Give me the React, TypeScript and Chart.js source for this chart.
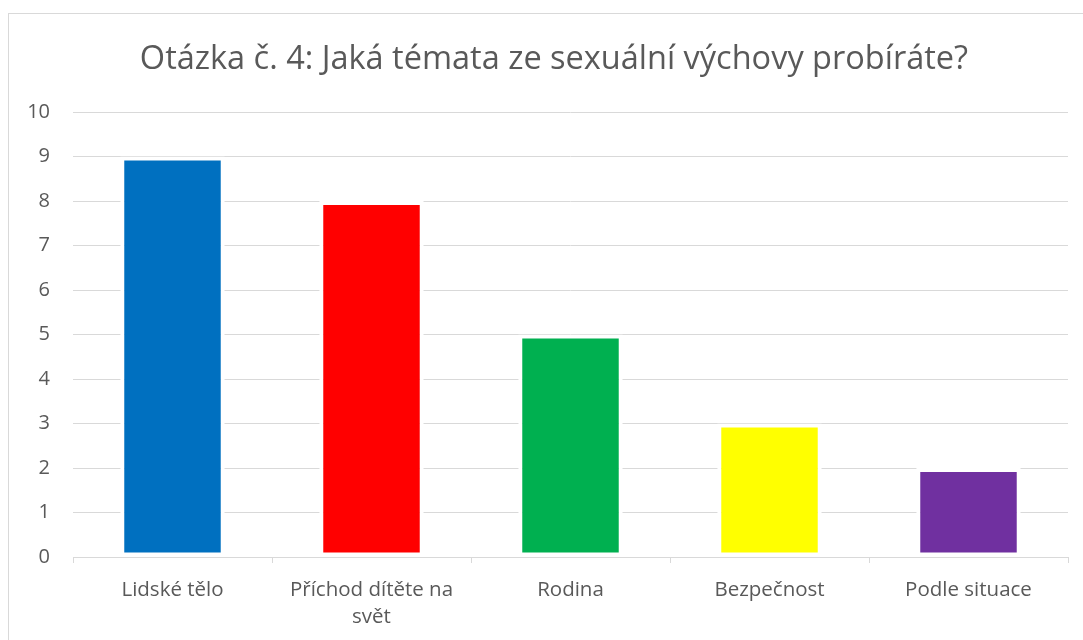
import React, { useEffect, useRef } from "react";
import { Chart, registerables } from "chart.js";

Chart.register(...registerables);

const titleText = "Otázka č. 4: Jaká témata ze sexuální výchovy probíráte?";
const categories: (string | string[])[] = [
  "Lidské tělo",
  ["Příchod dítěte na", "svět"],
  "Rodina",
  "Bezpečnost",
  "Podle situace",
];
const values = [9, 8, 5, 3, 2];
const barColors = ["#0070C0", "#FF0000", "#00B050", "#FFFF00", "#7030A0"];
const yMin = 0;
const yMax = 10;
const yStep = 1;

const FONT = "'Open Sans', sans-serif";
const TEXT = "#595959";
const GRID = "#d9d9d9";

const titlePlugin = {
  id: "customTitle",
  afterDraw(chart: any) {
    const ctx = chart.ctx;
    ctx.save();
    ctx.font = `normal 32.5px ${FONT}`;
    ctx.fillStyle = TEXT;
    ctx.textAlign = "center";
    ctx.textBaseline = "alphabetic";
    ctx.fillText(titleText, 554, 69);
    ctx.restore();
  },
};

export default function App() {
  const ref = useRef<HTMLCanvasElement | null>(null);
  useEffect(() => {
    if (!ref.current) return;
    const chart = new Chart(ref.current, {
      type: "bar",
      data: {
        labels: categories,
        datasets: [
          {
            data: values,
            backgroundColor: barColors,
            borderColor: "#ffffff",
            borderWidth: 4,
            borderSkipped: false,
            categoryPercentage: 1,
            barPercentage: 0.525,
          },
        ],
      },
      plugins: [titlePlugin],
      options: {
        animation: false,
        responsive: false,
        maintainAspectRatio: false,
        layout: { padding: { left: 0, right: 15, top: 112, bottom: 0 } },
        plugins: {
          legend: { display: false },
          tooltip: { enabled: false },
          title: { display: false },
        },
        scales: {
          x: {
            afterFit: (s: any) => {
              s.height = 83;
            },
            grid: {
              display: true,
              offset: true,
              drawOnChartArea: false,
              drawTicks: true,
              tickLength: 6,
              color: GRID,
            },
            border: { display: true, color: GRID, width: 1 },
            ticks: {
              color: TEXT,
              font: { family: FONT, size: 20.5, lineHeight: 1.32 },
              padding: 14,
              maxRotation: 0,
              autoSkip: false,
            },
          },
          y: {
            min: yMin,
            max: yMax,
            afterFit: (s: any) => {
              s.width = 73;
            },
            grid: { color: GRID, drawTicks: false, lineWidth: 1 },
            border: { display: false },
            ticks: {
              stepSize: yStep,
              color: TEXT,
              font: { family: FONT, size: 20 },
              padding: 23,
            },
          },
        },
      },
    });
    return () => chart.destroy();
  }, []);
  return (
    <div
      style={{
        position: "fixed",
        left: 0,
        top: 0,
        width: 1083,
        height: 640,
        overflow: "hidden",
        background: "#fff",
      }}
    >
      <div
        style={{
          position: "absolute",
          left: 8,
          top: 13,
          width: 1200,
          height: 800,
          border: "1px solid #d9d9d9",
        }}
      />
      <canvas
        ref={ref}
        width={1083}
        height={640}
        style={{ position: "absolute", left: 0, top: 0, width: 1083, height: 640 }}
      />
    </div>
  );
}
